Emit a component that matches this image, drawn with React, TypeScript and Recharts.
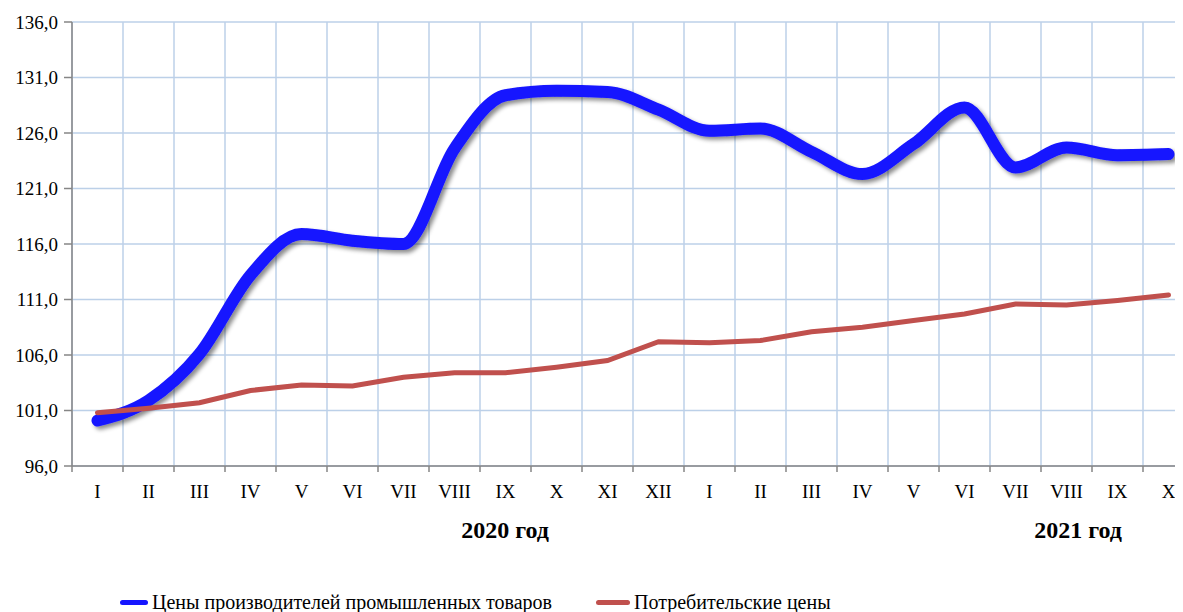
import React from "react";
import { LineChart, Line, XAxis, YAxis, CartesianGrid } from "recharts";

const months = [
  "I", "II", "III", "IV", "V", "VI", "VII", "VIII", "IX", "X", "XI", "XII",
  "I", "II", "III", "IV", "V", "VI", "VII", "VIII", "IX", "X",
];

const producerPrices = [
  100.1, 101.9, 106.1, 113.2, 116.9, 116.3, 116.0, 124.6, 129.4, 129.8, 129.7,
  128.1, 126.2, 126.4, 124.3, 122.3, 125.0, 128.3, 122.9, 124.7, 124.0, 124.1,
];

const consumerPrices = [
  100.8, 101.2, 101.7, 102.8, 103.3, 103.2, 104.0, 104.4, 104.4, 104.9, 105.5,
  107.2, 107.1, 107.3, 108.1, 108.5, 109.1, 109.7, 110.6, 110.5, 110.9, 111.4,
];

const yTicks = [96, 101, 106, 111, 116, 121, 126, 131, 136];
const years = ["2020 год", "2021 год"];
const seriesNames = ["Цены производителей промышленных товаров", "Потребительские цены"];

const data = months.map((m, i) => ({
  pos: i + 0.5,
  month: m,
  producer: producerPrices[i],
  consumer: consumerPrices[i],
}));

const boundaries = months.map((_, i) => i).concat(months.length);

const FONT = "Liberation Serif";
const BLUE = "#1515ff";
const RED = "#c0504d";
const GRID = "#bcd0e8";
const AXIS = "#868686";

function MonthTick(props: any) {
  const { x, y, payload, width } = props;
  const i = payload.value;
  if (i >= months.length) return null;
  const band = width / months.length;
  return (
    <text
      x={x + band / 2}
      y={y}
      dy={24}
      textAnchor="middle"
      style={{ fontFamily: FONT, fontSize: 19 }}
      fill="#000"
    >
      {months[i]}
    </text>
  );
}

export default function App() {
  return (
    <div
      style={{
        position: "relative",
        width: 1175,
        height: 604,
        overflow: "hidden",
        fontFamily: FONT,
      }}
    >
      <LineChart
        width={1200}
        height={604}
        data={data}
        margin={{ top: 14, right: 14, left: 4, bottom: 106 }}
        style={{ fontFamily: FONT }}
      >
        <defs>
          <filter id="shadow" x="-10%" y="-20%" width="120%" height="140%">
            <feDropShadow dx="3" dy="3" stdDeviation="2" floodColor="#000" floodOpacity="0.45" />
          </filter>
        </defs>
        <CartesianGrid stroke={GRID} strokeWidth={1.5} />
        <XAxis
          type="number"
          dataKey="pos"
          domain={[0, months.length]}
          ticks={boundaries}
          interval={0}
          height={40}
          tick={<MonthTick />}
          tickSize={6}
          axisLine={{ stroke: AXIS, strokeWidth: 1.5 }}
          tickLine={{ stroke: AXIS, strokeWidth: 1.5 }}
        />
        <YAxis
          type="number"
          domain={[96, 136]}
          ticks={yTicks}
          interval={0}
          width={60}
          tickSize={8}
          tickMargin={6}
          tickFormatter={(v: number) => v.toFixed(1).replace(".", ",")}
          tick={{ fill: "#000", fontSize: 19, fontFamily: FONT, style: { fontFamily: FONT } }}
          axisLine={{ stroke: AXIS, strokeWidth: 1.5 }}
          tickLine={{ stroke: AXIS, strokeWidth: 1.5 }}
        />
        <Line
          type="monotone"
          dataKey="producer"
          stroke={BLUE}
          strokeWidth={12}
          strokeLinecap="round"
          dot={false}
          filter="url(#shadow)"
          isAnimationActive={false}
        />
        <Line
          type="linear"
          dataKey="consumer"
          stroke={RED}
          strokeWidth={5}
          strokeLinecap="round"
          dot={false}
          isAnimationActive={false}
        />
      </LineChart>
      <div
        style={{
          position: "absolute",
          left: 497,
          top: 522,
          transform: "translate(-50%, -50%)",
          fontWeight: "bold",
          fontSize: 24,
          whiteSpace: "nowrap",
        }}
      >
        {years[0]}
      </div>
      <div
        style={{
          position: "absolute",
          left: 1070,
          top: 522,
          transform: "translate(-50%, -50%)",
          fontWeight: "bold",
          fontSize: 24,
          whiteSpace: "nowrap",
        }}
      >
        {years[1]}
      </div>
      <div
        style={{
          position: "absolute",
          left: 112,
          top: 583,
          height: 22,
          display: "flex",
          alignItems: "center",
          fontSize: 20,
          lineHeight: "22px",
          whiteSpace: "nowrap",
        }}
      >
        <span style={{ width: 28, height: 5, background: BLUE, borderRadius: 3, marginRight: 4 }} />
        <span>{seriesNames[0]}</span>
        <span style={{ width: 34, height: 5, background: RED, borderRadius: 3, marginLeft: 44, marginRight: 4 }} />
        <span>{seriesNames[1]}</span>
      </div>
    </div>
  );
}
